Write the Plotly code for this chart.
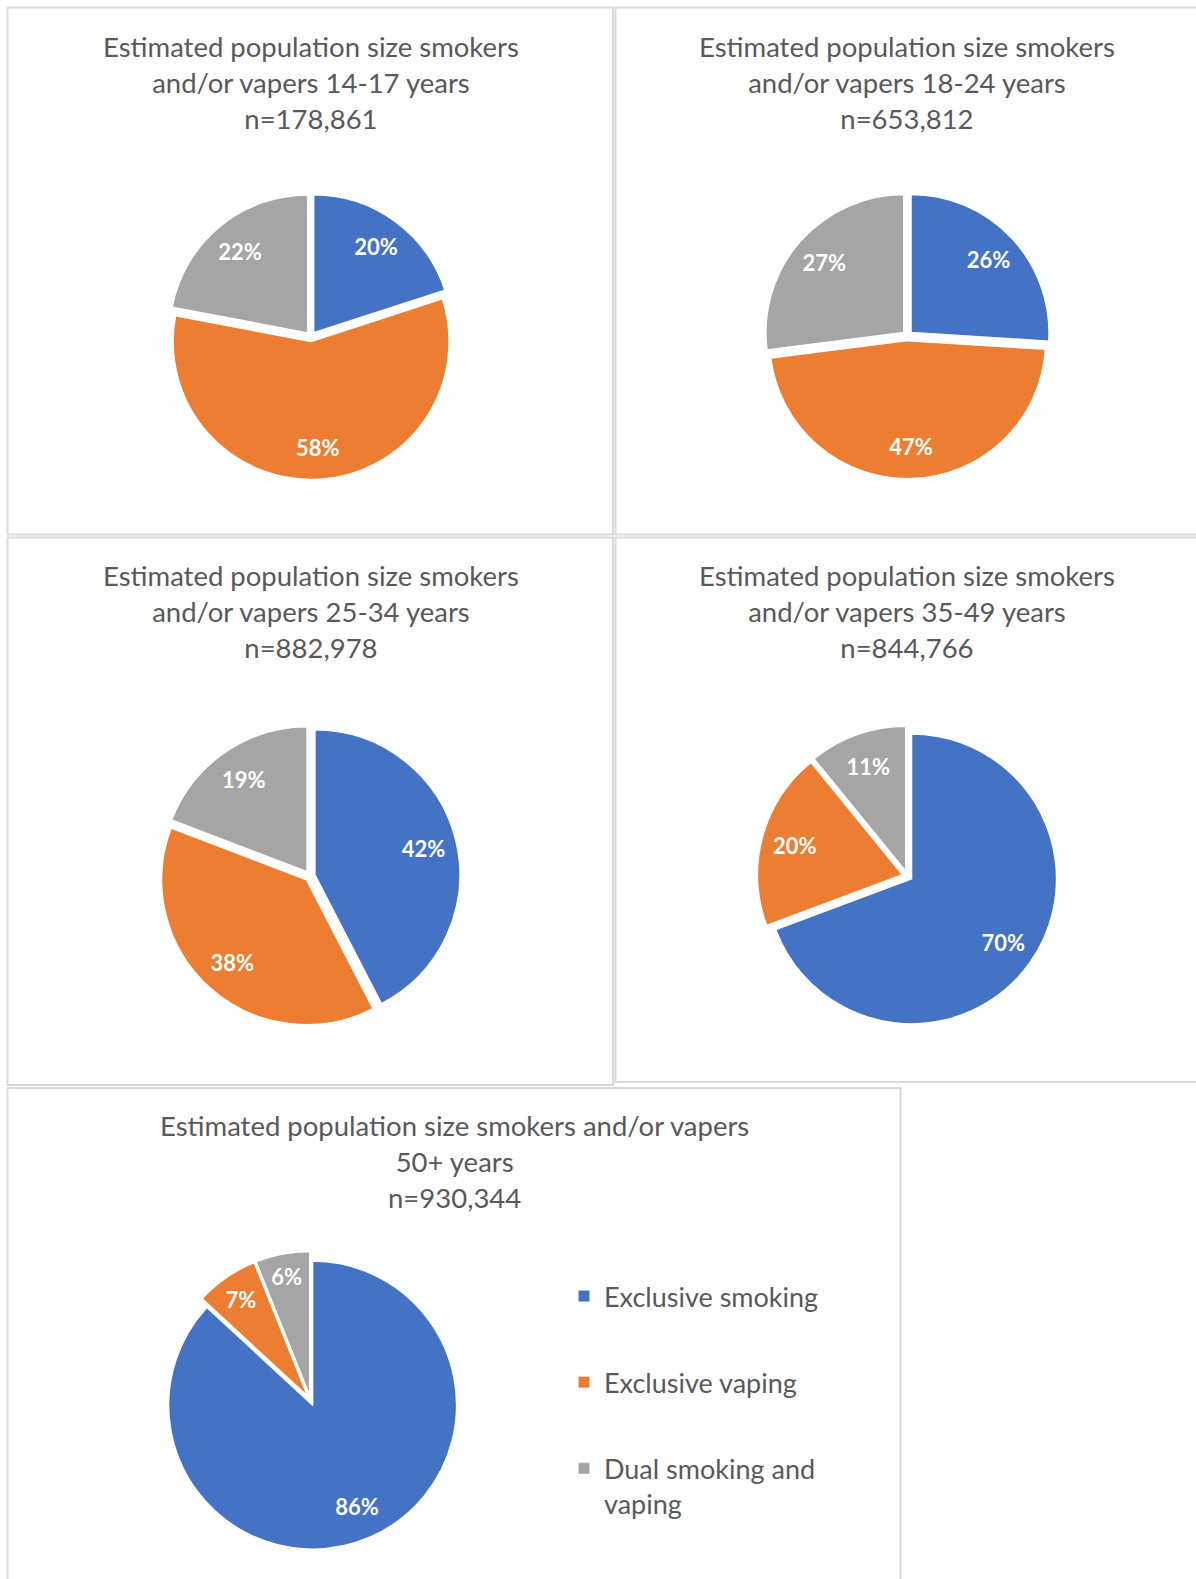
import plotly.graph_objects as go

# Smoking / vaping status by age group (percent of each group's population)
categories = ["Exclusive smoking", "Exclusive vaping", "Dual smoking and vaping"]
legend_names = ["Exclusive smoking", "Exclusive vaping", "Dual smoking and<br>vaping"]
age_groups = ["14-17 years", "18-24 years", "25-34 years", "35-49 years", "50+ years"]
sample_sizes = [178861, 653812, 882978, 844766, 930344]
smoking = [20, 26, 42, 70, 86]
vaping = [58, 47, 38, 20, 7]
dual = [22, 27, 19, 11, 6]

colors = ["#4472C4", "#ED7D31", "#A5A5A5"]
W, H = 1196, 1579
PULL = 0.035
FONT = "Lato"
TEXT_GREY = "#595959"

# panel frames (px): x0, y0, x1, y1
panels = [
    (7.5, 7.5, 613, 534.5),
    (615.5, 7.5, 1240, 534.5),
    (7.5, 537.5, 613, 1085),
    (615.5, 537.5, 1240, 1082),
    (7.5, 1088, 900.5, 1640),
]
# pie centre (px) and radius (px) for each panel
pie_geom = [
    (310.8, 336.7, 138),
    (907.5, 335.8, 138),
    (310.0, 876.0, 145),
    (907.4, 876.0, 145),
    (310.6, 1400.5, 144),
]
# title block centre (px)
title_pos = [
    (311, 82.6),
    (907, 82.6),
    (311, 612.0),
    (907, 612.0),
    (454, 1161.8),
]


def domain_for(cx, cy, r):
    h = r * (1 + PULL)
    return dict(x=[(cx - h) / W, (cx + h) / W],
                y=[1 - (cy + h) / H, 1 - (cy - h) / H])


fig = go.Figure()

for i, age in enumerate(age_groups):
    vals = [smoking[i], vaping[i], dual[i]]
    dom = domain_for(*pie_geom[i])
    # coloured slices
    fig.add_trace(go.Pie(
        labels=categories, values=vals, sort=False, direction="clockwise",
        rotation=0, pull=[PULL] * 3, domain=dom,
        marker=dict(colors=colors, line=dict(color="white", width=1.5)),
        textinfo="none", showlegend=False,
        hovertemplate="%{label}: %{value}%<extra></extra>",
    ))
    # percentage labels, placed in the outer ring of the slice
    fig.add_trace(go.Pie(
        labels=categories, values=vals, sort=False, direction="clockwise",
        rotation=0, pull=[PULL] * 3, domain=dom, hole=0.54,
        marker=dict(colors=["rgba(0,0,0,0)"] * 3, line=dict(width=0)),
        texttemplate="%{value}%", textposition="inside",
        insidetextorientation="horizontal",
        textfont=dict(family=FONT, size=22, color="white", weight="bold"),
        showlegend=False, hoverinfo="skip",
    ))

# legend entries
for name, col in zip(legend_names, colors):
    fig.add_trace(go.Scatter(
        x=[None], y=[None], mode="markers", name=name, legendgroup=name,
        marker=dict(symbol="square", size=11, color=col),
    ))

shapes = [
    dict(type="rect", xref="paper", yref="paper",
         x0=x0 / W, x1=x1 / W, y0=1 - y1 / H, y1=1 - y0 / H,
         line=dict(color="#D9D9D9", width=2), fillcolor="rgba(0,0,0,0)", layer="below")
    for (x0, y0, x1, y1) in panels
]

annotations = []
for i, age in enumerate(age_groups):
    if i < 4:
        head = "Estimated population size smokers<br>and/or vapers " + age
    else:
        head = "Estimated population size smokers and/or vapers<br>" + age
    tx, ty = title_pos[i]
    annotations.append(dict(
        text=f"{head}<br>n={sample_sizes[i]:,}", x=tx / W, y=1 - ty / H,
        xref="paper", yref="paper", xanchor="center", yanchor="middle",
        showarrow=False, align="center",
        font=dict(family=FONT, size=27.5, color=TEXT_GREY),
    ))

fig.update_layout(
    width=W, height=H, margin=dict(l=0, r=0, t=0, b=0),
    paper_bgcolor="white", plot_bgcolor="white",
    xaxis=dict(visible=False), yaxis=dict(visible=False),
    shapes=shapes, annotations=annotations,
    legend=dict(x=(604 - 40) / W, y=1 - 1272 / H, xanchor="left", yanchor="top",
                font=dict(family=FONT, size=27, color=TEXT_GREY),
                tracegroupgap=48, valign="top", bgcolor="rgba(0,0,0,0)"),
    showlegend=True,
)

fig.write_html("out.html")
